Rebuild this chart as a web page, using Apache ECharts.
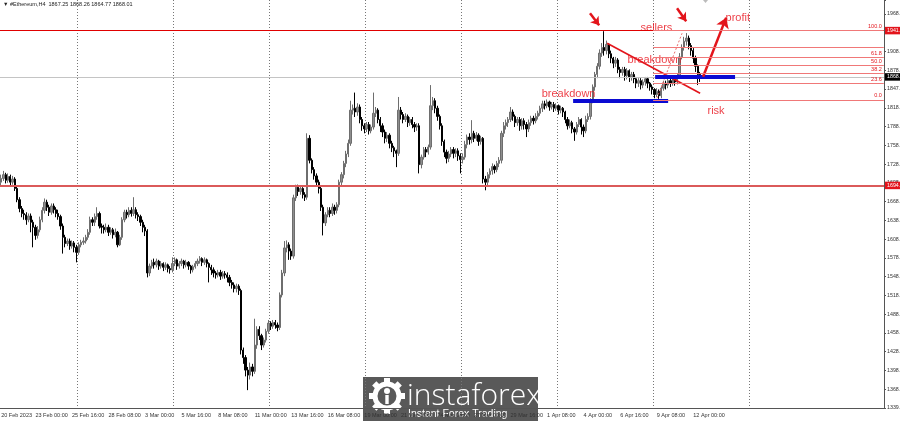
<!DOCTYPE html>
<html><head><meta charset="utf-8">
<script src="https://cdn.jsdelivr.net/npm/echarts@6/dist/echarts.min.js"></script>
<style>html,body{margin:0;padding:0;background:#fff;overflow:hidden}#c{width:900px;height:421px}</style>
</head><body><div id="c"></div>
<script>
// [open, close, low, high] per H4 candle
const candles = [
[1700,1706,1695,1712],[1706,1712,1702,1718],[1712,1703,1698,1715],[1703,1709,1699,1714],[1709,1700,1694,1712],[1700,1705,1696,1710],[1705,1690,1686,1708],[1690,1672,1668,1693],
[1672,1658,1652,1676],[1658,1650,1644,1662],[1650,1648,1640,1656],[1648,1640,1632,1652],[1640,1646,1636,1650],[1646,1636,1620,1650],[1636,1628,1596,1640],[1628,1615,1608,1632],
[1615,1624,1610,1630],[1624,1640,1620,1645],[1640,1655,1636,1660],[1655,1668,1650,1674],[1668,1660,1654,1672],[1660,1652,1646,1664],[1652,1662,1648,1666],[1662,1656,1650,1666],
[1656,1650,1644,1660],[1650,1645,1640,1656],[1645,1630,1624,1648],[1630,1612,1586,1634],[1612,1602,1596,1616],[1602,1606,1598,1610],[1606,1598,1592,1610],[1598,1603,1594,1607],
[1603,1596,1588,1606],[1596,1588,1572,1600],[1588,1600,1584,1604],[1600,1604,1596,1608],[1604,1606,1600,1612],[1606,1612,1602,1616],[1612,1620,1608,1625],[1620,1640,1616,1645],
[1640,1636,1630,1644],[1636,1645,1630,1650],[1645,1650,1640,1660],[1650,1630,1626,1653],[1630,1628,1618,1634],[1628,1624,1618,1632],[1624,1628,1620,1634],[1628,1620,1614,1632],
[1620,1624,1616,1628],[1624,1616,1610,1627],[1616,1620,1612,1626],[1620,1600,1596,1622],[1600,1612,1598,1616],[1612,1640,1608,1644],[1640,1652,1636,1656],[1652,1648,1642,1656],
[1648,1655,1644,1660],[1655,1650,1645,1660],[1650,1656,1646,1676],[1656,1648,1642,1660],[1648,1645,1638,1652],[1645,1636,1630,1648],[1636,1628,1620,1640],[1628,1622,1614,1632],
[1622,1555,1548,1625],[1555,1566,1550,1570],[1566,1572,1562,1576],[1572,1568,1562,1578],[1568,1574,1564,1578],[1574,1566,1560,1576],[1566,1570,1562,1574],[1570,1564,1558,1572],
[1564,1568,1560,1572],[1568,1562,1556,1570],[1562,1560,1554,1566],[1560,1570,1556,1580],[1570,1576,1566,1580],[1576,1566,1560,1578],[1566,1570,1562,1574],[1570,1574,1566,1578],
[1574,1568,1562,1576],[1568,1572,1564,1576],[1572,1566,1560,1574],[1566,1560,1554,1568],[1560,1565,1556,1568],[1565,1570,1562,1574],[1570,1574,1566,1578],[1574,1578,1570,1582],
[1578,1572,1566,1580],[1572,1576,1568,1580],[1576,1570,1564,1578],[1570,1564,1540,1572],[1564,1560,1552,1568],[1560,1555,1548,1564],[1555,1552,1546,1558],[1552,1556,1548,1560],
[1556,1550,1544,1560],[1550,1554,1546,1558],[1554,1552,1546,1558],[1552,1548,1540,1556],[1548,1540,1534,1552],[1540,1536,1530,1544],[1536,1530,1524,1540],[1530,1534,1524,1538],
[1534,1527,1520,1537],[1527,1432,1425,1530],[1432,1420,1410,1436],[1420,1400,1390,1424],[1400,1392,1368,1405],[1392,1405,1385,1412],[1405,1398,1390,1410],[1398,1440,1394,1482],
[1440,1465,1434,1470],[1465,1455,1448,1470],[1455,1440,1432,1458],[1440,1448,1436,1452],[1448,1462,1444,1466],[1462,1475,1458,1480],[1475,1470,1464,1478],[1470,1476,1466,1480],
[1476,1472,1466,1480],[1472,1468,1462,1476],[1468,1520,1464,1524],[1520,1555,1516,1560],[1555,1595,1550,1606],[1595,1600,1588,1607],[1600,1590,1576,1604],[1590,1582,1576,1594],
[1582,1675,1578,1680],[1675,1692,1670,1696],[1692,1685,1678,1696],[1685,1690,1680,1694],[1690,1680,1674,1692],[1680,1676,1670,1684],[1676,1770,1672,1778],[1770,1735,1730,1775],
[1735,1720,1714,1738],[1720,1710,1704,1724],[1710,1700,1694,1714],[1700,1690,1682,1704],[1690,1660,1654,1694],[1660,1635,1615,1664],[1635,1648,1630,1652],[1648,1655,1644,1660],
[1655,1650,1644,1660],[1650,1660,1646,1666],[1660,1655,1648,1664],[1655,1664,1650,1668],[1664,1700,1660,1704],[1700,1712,1694,1716],[1712,1730,1706,1734],[1730,1745,1724,1750],
[1745,1762,1740,1768],[1762,1815,1758,1830],[1815,1818,1808,1824],[1818,1812,1804,1843],[1812,1820,1806,1826],[1820,1800,1794,1824],[1800,1790,1782,1804],[1790,1785,1778,1794],
[1785,1792,1780,1796],[1792,1782,1776,1796],[1782,1788,1778,1792],[1788,1810,1784,1843],[1810,1815,1804,1820],[1815,1800,1794,1818],[1800,1790,1780,1804],[1790,1780,1772,1794],
[1780,1770,1762,1784],[1770,1775,1764,1780],[1775,1762,1754,1778],[1762,1755,1748,1766],[1755,1750,1740,1758],[1750,1746,1724,1752],[1746,1815,1742,1836],[1815,1808,1800,1820],
[1808,1800,1794,1812],[1800,1805,1796,1810],[1805,1795,1788,1808],[1795,1800,1790,1804],[1800,1792,1786,1804],[1792,1788,1780,1796],[1788,1790,1782,1794],[1790,1728,1714,1794],
[1728,1740,1722,1744],[1740,1752,1736,1756],[1752,1748,1740,1756],[1748,1756,1744,1760],[1756,1822,1752,1855],[1822,1830,1815,1836],[1830,1818,1810,1834],[1818,1805,1798,1822],
[1805,1790,1784,1808],[1790,1765,1758,1794],[1765,1748,1740,1768],[1748,1738,1730,1752],[1738,1745,1732,1750],[1745,1752,1740,1756],[1752,1746,1738,1756],[1746,1750,1740,1754],
[1750,1742,1734,1754],[1742,1736,1714,1746],[1736,1740,1730,1746],[1740,1760,1736,1766],[1760,1772,1754,1776],[1772,1768,1760,1778],[1768,1778,1762,1799],[1778,1770,1764,1782],
[1770,1775,1766,1780],[1775,1765,1758,1778],[1765,1770,1760,1774],[1770,1705,1698,1772],[1705,1700,1687,1710],[1700,1712,1694,1716],[1712,1718,1706,1722],[1718,1725,1712,1730],
[1725,1720,1714,1728],[1720,1730,1716,1734],[1730,1735,1724,1740],[1735,1778,1730,1782],[1778,1790,1772,1796],[1790,1795,1784,1800],[1795,1800,1788,1804],[1800,1812,1796,1820],
[1812,1805,1798,1816],[1805,1795,1788,1808],[1795,1800,1790,1804],[1800,1790,1782,1804],[1790,1798,1784,1802],[1798,1792,1784,1802],[1792,1785,1772,1796],[1785,1795,1780,1800],
[1795,1802,1790,1806],[1802,1798,1792,1806],[1798,1805,1794,1810],[1805,1810,1800,1814],[1810,1818,1806,1822],[1818,1825,1812,1830],[1825,1822,1816,1830],[1822,1828,1818,1832],
[1828,1820,1814,1830],[1820,1824,1816,1828],[1824,1818,1812,1828],[1818,1822,1814,1826],[1822,1815,1808,1824],[1815,1818,1810,1822],[1818,1812,1804,1820],[1812,1800,1794,1814],
[1800,1790,1784,1804],[1790,1795,1786,1800],[1795,1785,1778,1798],[1785,1780,1766,1788],[1780,1792,1776,1796],[1792,1800,1788,1804],[1800,1788,1776,1802],[1788,1782,1772,1792],
[1782,1800,1778,1806],[1800,1805,1796,1810],[1805,1830,1800,1834],[1830,1852,1826,1856],[1852,1872,1846,1876],[1872,1885,1866,1890],[1885,1906,1880,1912],[1906,1915,1900,1922],
[1915,1910,1902,1941],[1910,1920,1904,1926],[1920,1905,1898,1922],[1905,1898,1890,1910],[1898,1890,1882,1900],[1890,1895,1884,1900],[1895,1880,1874,1898],[1880,1875,1866,1884],
[1875,1880,1870,1884],[1880,1870,1862,1884],[1870,1878,1864,1882],[1878,1868,1860,1880],[1868,1872,1862,1876],[1872,1865,1858,1876],[1865,1858,1850,1868],[1858,1862,1852,1866],
[1862,1855,1848,1866],[1855,1860,1850,1864],[1860,1865,1854,1868],[1865,1858,1850,1868],[1858,1852,1846,1860],[1852,1848,1840,1856],[1848,1840,1834,1850],[1840,1845,1836,1850],
[1845,1838,1833,1848],[1838,1850,1834,1854],[1850,1858,1846,1862],[1858,1855,1848,1862],[1855,1862,1850,1866],[1862,1858,1852,1866],[1858,1866,1854,1870],[1866,1860,1854,1868],
[1860,1870,1856,1874],[1870,1900,1866,1906],[1900,1915,1896,1920],[1915,1925,1910,1932],[1925,1930,1918,1938],[1930,1918,1912,1934],[1918,1910,1902,1922],[1910,1898,1890,1914],
[1898,1885,1876,1902],[1885,1872,1855,1888],[1872,1866,1860,1876],[1867.25,1868.01,1864.77,1868.26]
];
const slotCount = 387; // bar slots across the window (incl. empty right shift)
const xTickLabels = [[0,'20 Feb 2023'],[15,'23 Feb 00:00'],[31,'25 Feb 16:00'],[47,'28 Feb 08:00'],[63,'3 Mar 00:00'],[79,'5 Mar 16:00'],[95,'8 Mar 08:00'],[111,'11 Mar 00:00'],[127,'13 Mar 16:00'],[143,'16 Mar 08:00'],[159,'19 Mar 00:00'],[175,'21 Mar 16:00'],[191,'24 Mar 08:00'],[207,'27 Mar 00:00'],[223,'29 Mar 16:00'],[239,'1 Apr 08:00'],[255,'4 Apr 00:00'],[271,'6 Apr 16:00'],[287,'9 Apr 08:00'],[303,'12 Apr 00:00']];
const yTickLabels = ['1339.50','1368.50','1398.50','1428.50','1458.50','1488.50','1518.50','1548.50','1578.50','1608.50','1638.50','1668.50','1698.50','1728.50','1758.50','1788.50','1818.50','1847.50','1878.50','1908.50','1937.50','1968.50'];
const yMin = 1339.5, yTop = 1968.5, yTickCount = 21;
const yMax = 1990.8;
const gridEvery = 42, gridFirst = 34, gridLast = 328;
const levelTop = 1941.95, level1694 = 1694.8, bidPrice = 1868.01;
const fibLow = 1831.2, fibHigh = 1941.95, fibStart = 285.4;
const fibRatios = [0, 23.6, 38.2, 50, 61.8, 76.4, 100];
const fibShown = ['0.0','23.6','38.2','50.0','61.8','','100.0'];
const trendLine = [[265.3,1921.7],[306,1841.9]];
const fibDiag = [[287.1,1833.9],[298.1,1937.7]];
const blueLow = [[250.4,1830.7],[292.0,1830.7]];
const blueMid = [[286.3,1869.0],[321.3,1869.0]];
const arrowA = [[257.8,1969.6],[261.8,1950.4]];
const arrowB = [[295.9,1977.6],[299.9,1956.9]];
const arrowProfit = [[307.3,1868.4],[317.4,1962.6]];
const notes = [['sellers',279.7,1945.6],['breakdown',274.0,1894.6],['breakdown',236.4,1840.3],['profit',316.9,1961.6],['risk',309.0,1813.1]];

const labelMap = {}; xTickLabels.forEach(t => labelMap[t[0]] = t[1]);
const cats = Array.from({length: slotCount}, (_, i) => i);
const RED = '#e3141b';
const F = 'Liberation Sans, Arial, sans-serif';

function seg(p, style, endSym, size) {
  return [{coord: p[0], symbol: 'none', lineStyle: style},
          {coord: p[1], symbol: endSym || 'none', symbolSize: size || 6, lineStyle: style}];
}
const annLines = [
  seg(trendLine, {color: RED, width: 1.6, type: 'solid'}),
  seg(fibDiag, {color: '#e86a6a', width: 1, type: [2, 2]}),
  seg(blueLow, {color: '#0a0ad2', width: 4, type: 'solid'}),
  seg(blueMid, {color: '#0a0ad2', width: 4, type: 'solid'}),
  seg(arrowA, {color: RED, width: 2.5, type: 'solid'}, 'arrow', 8),
  seg(arrowB, {color: RED, width: 2.5, type: 'solid'}, 'arrow', 8),
  seg(arrowProfit, {color: RED, width: 2.5, type: 'solid'}, 'arrow', 10)
];
fibRatios.forEach((r, k) => {
  const v = fibLow + (fibHigh - fibLow) * r / 100;
  const st = {color: '#f07878', width: 1, type: 'solid'};
  const lb = {show: !!fibShown[k], formatter: fibShown[k], position: 'insideEndTop', distance: [2, 1], color: RED, fontSize: 5.5, fontFamily: F};
  annLines.push([
    {coord: [fibStart, v], symbol: 'none', lineStyle: st, label: lb},
    {coord: [slotCount - 0.6, v], symbol: 'none', lineStyle: st, label: lb}
  ]);
});

function boxLabel(txt, bg) {
  return {show: true, position: 'end', distance: 1, formatter: txt, color: '#fff', backgroundColor: bg,
          padding: [1.5, 3, 1, 2], fontSize: 5.3, fontFamily: F};
}

const chart = echarts.init(document.getElementById('c'), null, {renderer: 'canvas'});
chart.setOption({
  animation: false,
  backgroundColor: '#ffffff',
  grid: {left: 0, right: 16, top: 0, bottom: 13, containLabel: false, outerBoundsMode: 'none'},
  xAxis: [{
    type: 'category', data: cats, boundaryGap: true,
    axisLine: {show: true, lineStyle: {color: '#555', width: 1}},
    axisTick: {show: false},
    axisLabel: {interval: (i) => labelMap[i] !== undefined, formatter: (v) => labelMap[v] || '',
                align: 'left', margin: 4, fontSize: 5.5, color: '#333', fontFamily: F, hideOverlap: false},
    splitLine: {show: true, interval: (i) => i >= gridFirst && i <= gridLast && (i - gridFirst) % gridEvery === 0,
                lineStyle: {color: '#777', width: 1, type: [1, 2]}}
  }, {
    type: 'value', min: -0.5, max: slotCount - 0.5, show: false
  }],
  yAxis: [{
    type: 'value', min: yMin, max: yMax, show: false, position: 'right', scale: true
  }, {
    type: 'value', position: 'right', min: 0, max: (yMax - yMin) / ((yTop - yMin) / yTickCount), interval: 1,
    axisLine: {show: true, lineStyle: {color: '#555'}},
    axisTick: {show: true, length: 2, lineStyle: {color: '#555'}},
    splitLine: {show: false},
    axisLabel: {margin: 3, fontSize: 5.3, color: '#333', fontFamily: F,
                formatter: (v) => (Math.abs(v - Math.round(v)) < 1e-6 && yTickLabels[Math.round(v)]) || ''}
  }],
  series: [{
    type: 'candlestick', xAxisIndex: 0, yAxisIndex: 0, data: candles, barWidth: 1.8,
    itemStyle: {color: '#8e8e8e', color0: '#000000', borderColor: '#6e6e6e', borderColor0: '#000000', borderWidth: 1},
    markLine: {
      silent: true, symbol: ['none', 'none'], animation: false,
      data: [
        {yAxis: bidPrice, lineStyle: {color: '#c4c4c4', width: 1, type: 'solid'}, label: boxLabel('1868.01', '#000')},
        {yAxis: level1694, lineStyle: {color: '#db5a5a', width: 2, type: 'solid'}, label: boxLabel('1694.80', '#e3141b')},
        {yAxis: levelTop, lineStyle: {color: '#e00000', width: 1.2, type: 'solid'}, label: boxLabel('1941.95', '#e3141b')}
      ]
    }
  }, {
    type: 'line', xAxisIndex: 1, yAxisIndex: 0, data: [], silent: true,
    markLine: {silent: true, symbol: ['none', 'none'], animation: false, label: {show: false}, data: annLines}
  }, {
    type: 'scatter', xAxisIndex: 1, yAxisIndex: 0, silent: true, symbolSize: 1, itemStyle: {color: 'rgba(0,0,0,0)'},
    data: notes.map(n => ({name: n[0], value: [n[1], n[2]]})),
    label: {show: true, position: 'right', distance: 0, formatter: '{b}', color: '#e8101a', fontSize: 11, fontFamily: F}
  }],
  graphic: [
    {type: 'text', left: 3, top: 1, z: 50, style: {text: '▼ #Ethereum,H4  1867.25 1868.26 1864.77 1868.01', fill: '#222', font: '5.5px ' + F}},
    {type: 'polygon', z: 50, shape: {points: [[703, 0], [708, 0], [705.5, 3]]}, style: {fill: '#bbb'}},
    {type: 'group', z: 100, children: [
      {type: 'rect', shape: {x: 363, y: 377, width: 175, height: 44}, style: {fill: '#595959'}},
      {type: 'circle', shape: {cx: 387, cy: 396, r: 12}, style: {fill: 'none', stroke: '#fff', lineWidth: 5}},
      ...[0, 45, 90, 135, 180, 225, 270, 315].map(a => ({
        type: 'rect', shape: {x: -3, y: -18, width: 6, height: 6},
        x: 387, y: 396, rotation: -a * Math.PI / 180, style: {fill: '#fff'}
      })),
      {type: 'circle', shape: {cx: 387, cy: 391, r: 3}, style: {fill: '#fff'}},
      {type: 'rect', shape: {x: 385.3, y: 395, width: 3.4, height: 9}, style: {fill: '#fff'}},
      {type: 'text', style: {text: 'instaforex', x: 407, y: 381, fill: '#fff', font: '300 30px "Open Sans", Lato, sans-serif'}},
      {type: 'text', style: {text: 'Instant Forex Trading', x: 408, y: 409, fill: '#fff', font: '10.5px ' + F}}
    ]}
  ]
});
</script></body></html>
